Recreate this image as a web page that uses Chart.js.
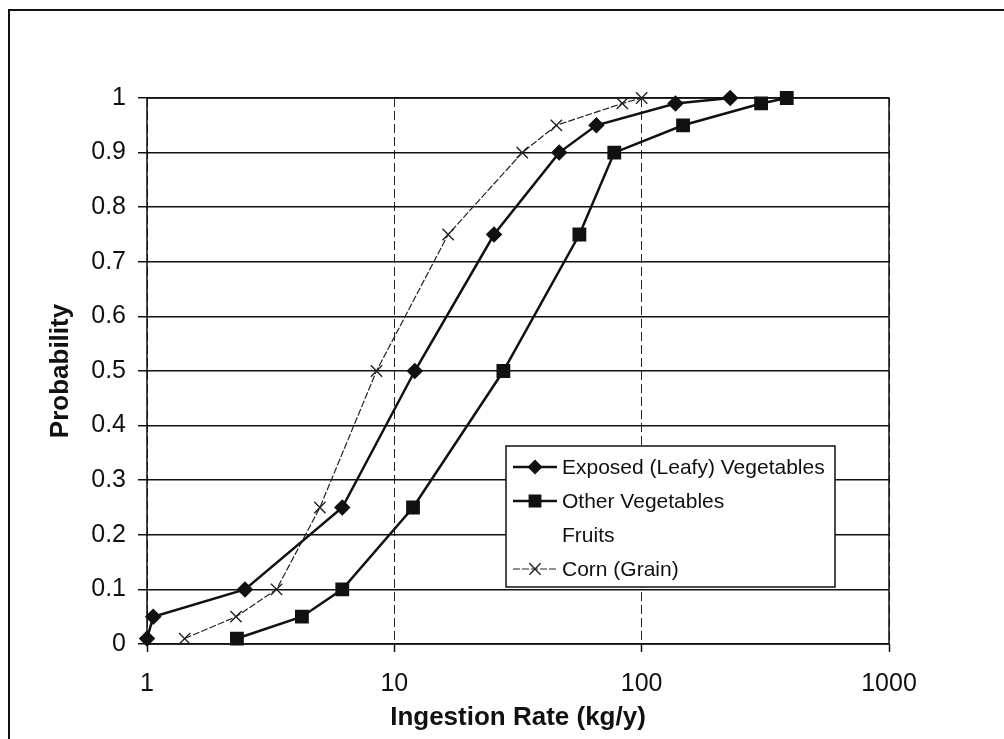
<!DOCTYPE html>
<html>
<head>
<meta charset="utf-8">
<script src="https://cdn.jsdelivr.net/npm/chart.js@4"></script>
<style>
  html, body { margin: 0; padding: 0; background: #fff; overflow: hidden; }
  #wrap { position: relative; width: 1004px; height: 739px; }
  #frame { position: absolute; left: 8px; top: 9px; width: 1010px; height: 760px;
           border-left: 2px solid #111; border-top: 2px solid #111; }
  #chart { position: absolute; left: 0; top: 0; }
</style>
</head>
<body>
<div id="wrap">
  <div id="frame"></div>
  <canvas id="chart" width="1004" height="739"></canvas>
</div>
<script>
// probability levels (y) shared by every series
const probs = [0.01, 0.05, 0.1, 0.25, 0.5, 0.75, 0.9, 0.95, 0.99, 1.0];

// ingestion rates (kg/y)
const leafyRates = [1.0, 1.06, 2.49, 6.16, 12.1, 25.3, 46.4, 65.6, 137, 228];
const otherVegRates = [2.31, 4.23, 6.16, 11.9, 27.6, 56.0, 77.5, 147, 304, 386];
const fruitRates = []; // shown in legend only
const cornRates = [1.42, 2.29, 3.34, 5.0, 8.47, 16.5, 32.9, 45.2, 83.5, 100];

const seriesNames = ["Exposed (Leafy) Vegetables", "Other Vegetables", "Fruits", "Corn (Grain)"];
const xTickValues = [1, 10, 100, 1000];

const FONT = "Arial, 'Liberation Sans', sans-serif";

const toPoints = (rates) => rates.map((r, i) => ({ x: r, y: probs[i] }));

// legend drawn inside the plot, like the original
const boxLegend = {
  id: "boxLegend",
  afterDatasetsDraw(chart) {
    const ctx = chart.ctx;
    const left = 506, top = 446, w = 329, h = 141;
    ctx.save();
    ctx.fillStyle = "#fff";
    ctx.fillRect(left, top, w, h);
    ctx.strokeStyle = "#111";
    ctx.lineWidth = 1.5;
    ctx.setLineDash([]);
    ctx.strokeRect(left, top, w, h);
    ctx.font = "21px " + FONT;
    ctx.textBaseline = "middle";
    chart.data.datasets.forEach((ds, i) => {
      const y = 467 + i * 34;
      if (ds.showLine !== false) {
        ctx.strokeStyle = ds.borderColor;
        ctx.lineWidth = ds.borderWidth;
        ctx.setLineDash(ds.borderDash || []);
        ctx.beginPath();
        ctx.moveTo(513, y);
        ctx.lineTo(557, y);
        ctx.stroke();
        ctx.setLineDash([]);
        ctx.fillStyle = ds.backgroundColor;
        ctx.strokeStyle = ds.borderColor;
        ctx.lineWidth = ds.pointBorderWidth || 1.5;
        Chart.helpers.drawPoint(ctx, {
          pointStyle: ds.pointStyle,
          radius: ds.pointRadius,
          borderWidth: ds.pointBorderWidth || 1.5,
        }, 535, y);
      }
      ctx.fillStyle = "#111";
      ctx.fillText(ds.label, 562, y + 1);
    });
    ctx.restore();
  },
};

// solid plot-area border
const plotBorder = {
  id: "plotBorder",
  beforeDatasetsDraw(chart) {
    const { left, top, right, bottom } = chart.chartArea;
    const ctx = chart.ctx;
    ctx.save();
    ctx.strokeStyle = "#111";
    ctx.lineWidth = 1.5;
    ctx.strokeRect(left, top, right - left, bottom - top);
    ctx.restore();
  },
};

const ctx = document.getElementById("chart").getContext("2d");
new Chart(ctx, {
  type: "line",
  data: {
    datasets: [
      {
        label: seriesNames[0],
        data: toPoints(leafyRates),
        borderColor: "#111",
        backgroundColor: "#111",
        borderWidth: 2.5,
        pointStyle: "rectRot",
        pointRadius: 6.5,
        clip: false,
      },
      {
        label: seriesNames[1],
        data: toPoints(otherVegRates),
        borderColor: "#111",
        backgroundColor: "#111",
        borderWidth: 2.5,
        pointStyle: "rect",
        pointRadius: 8,
        clip: false,
      },
      {
        label: seriesNames[2],
        data: toPoints(fruitRates),
        borderColor: "rgba(0,0,0,0)",
        backgroundColor: "rgba(0,0,0,0)",
        borderWidth: 0,
        pointRadius: 0,
        showLine: false,
      },
      {
        label: seriesNames[3],
        data: toPoints(cornRates),
        borderColor: "#222",
        backgroundColor: "#222",
        borderWidth: 1.2,
        borderDash: [7, 2],
        pointStyle: "crossRot",
        pointRadius: 8,
        pointBorderWidth: 1.4,
        clip: false,
      },
    ],
  },
  options: {
    responsive: false,
    animation: false,
    layout: { padding: { left: 0, top: 98, right: 115, bottom: 0 } },
    plugins: {
      legend: { display: false },
      tooltip: { enabled: false },
    },
    elements: { line: { tension: 0 } },
    scales: {
      x: {
        type: "logarithmic",
        min: 1,
        max: 1000,
        afterBuildTicks: (scale) => {
          scale.ticks = xTickValues.map((v) => ({ value: v }));
        },
        afterFit: (scale) => { scale.height = 95; },
        ticks: {
          autoSkip: false,
          maxRotation: 0,
          padding: 17,
          color: "#111",
          font: { family: FONT, size: 25 },
          callback: (v) => String(v),
        },
        grid: { color: "#222", lineWidth: 1, tickLength: 8, tickColor: "#111", tickWidth: 1.5 },
        border: { display: false, dash: [9, 4] },
        title: {
          display: true,
          text: "Ingestion Rate (kg/y)",
          color: "#111",
          padding: { top: 0, bottom: 6 },
          font: { family: FONT, size: 26, weight: "bold" },
        },
      },
      y: {
        min: 0,
        max: 1,
        afterFit: (scale) => { scale.width = 147; },
        ticks: {
          stepSize: 0.1,
          padding: 12,
          color: "#111",
          font: { family: FONT, size: 25 },
          callback: (v) => String(Number(v.toFixed(1))),
        },
        grid: { color: "#111", lineWidth: 1.5, tickLength: 9, tickColor: "#111" },
        border: { display: false },
        title: {
          display: true,
          text: "Probability",
          color: "#111",
          padding: { top: 45, bottom: 0 },
          font: { family: FONT, size: 26, weight: "bold" },
        },
      },
    },
  },
  plugins: [plotBorder, boxLegend],
});
</script>
</body>
</html>
